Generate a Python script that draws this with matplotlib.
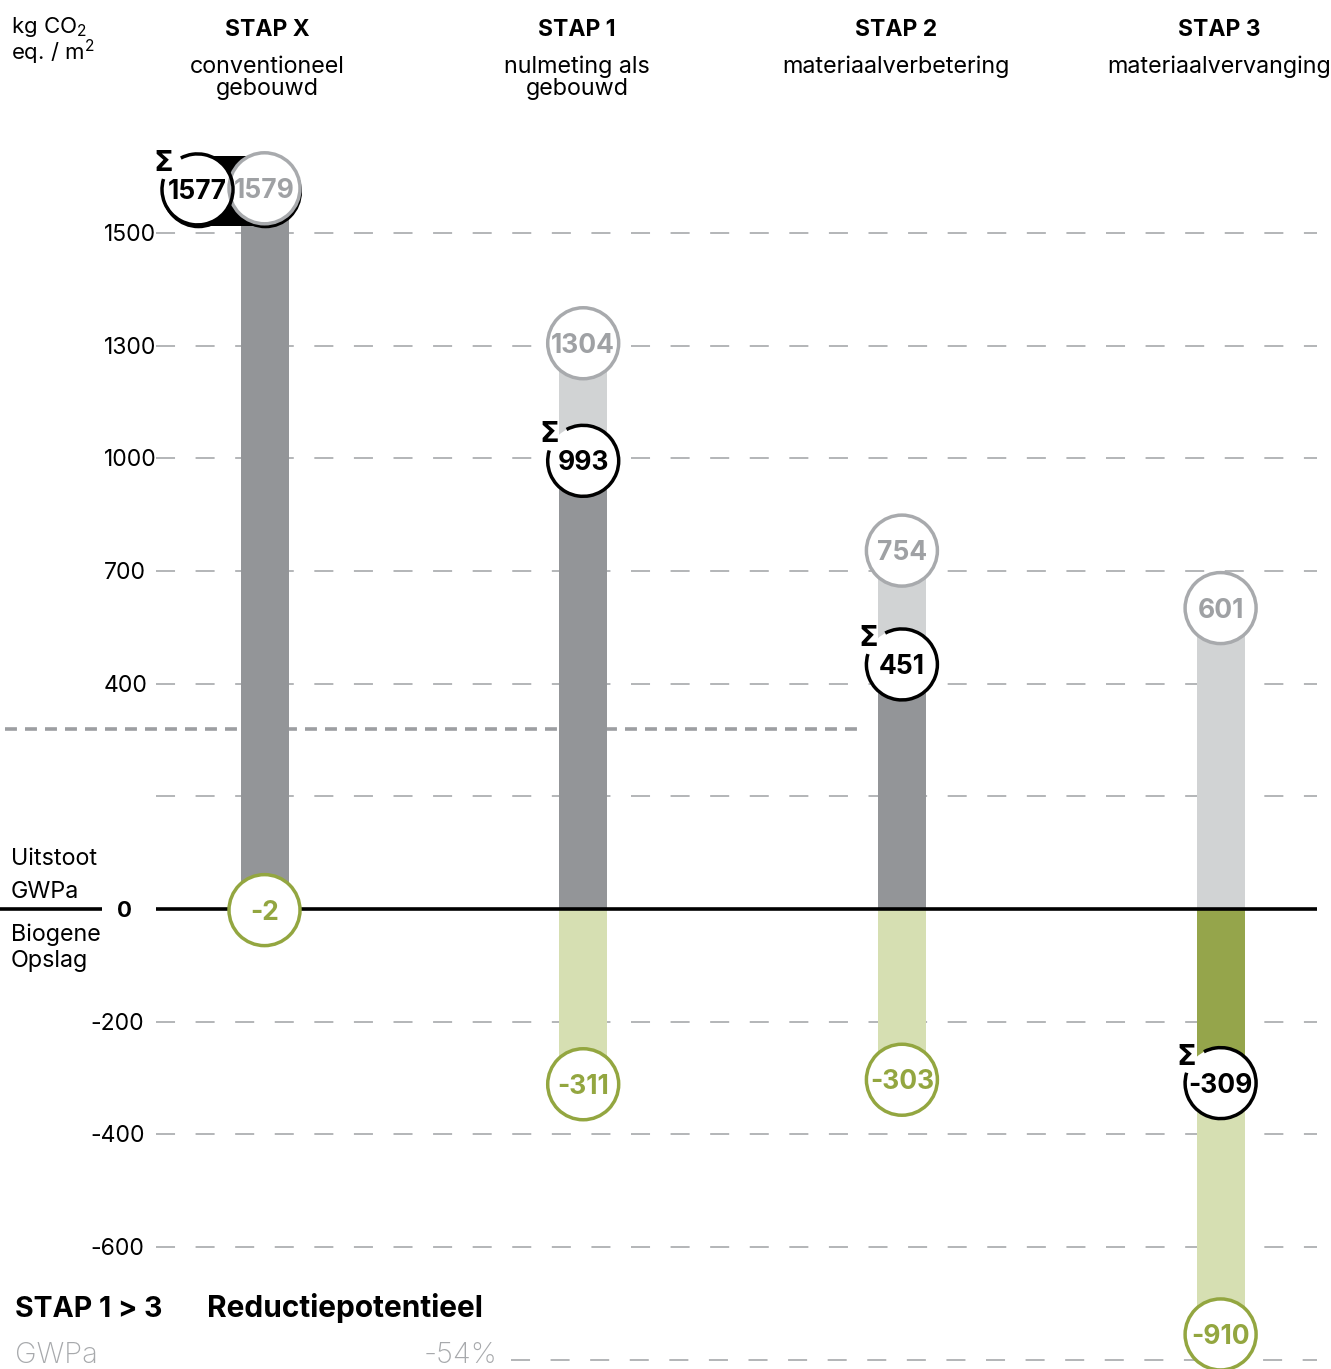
import numpy as np
import matplotlib
matplotlib.use("Agg")
import matplotlib.pyplot as plt
import matplotlib.transforms as mtransforms
from matplotlib.patches import Circle, Arc, Rectangle

plt.rcParams['font.family'] = ['Inter', 'DejaVu Sans']
plt.rcParams['mathtext.default'] = 'regular'
plt.rcParams['lines.scale_dashes'] = False

# ---------------------------------------------------------------- data
steps = ['STAP X', 'STAP 1', 'STAP 2', 'STAP 3']
descriptions = [['conventioneel', 'gebouwd'], ['nulmeting als', 'gebouwd'],
                ['materiaalverbetering'], ['materiaalvervanging']]
emission = [1579, 1304, 754, 601]        # Uitstoot GWPa
biogenic = [-2, -311, -303, -910]        # Biogene opslag
net_total = [1577, 993, 451, -309]       # Σ
tick_values = [-1000, -600, -400, -200, 0, 200, 400, 700, 1000, 1300, 1500]
tick_labels = ['', '-600', '-400', '-200', '0', '', '400', '700', '1000', '1300', '1500']
benchmark = 320
reduction_text = ['STAP 1 > 3', 'Reductiepotentieel']
reduction_row = ['GWPa', '-54%']

# ---------------------------------------------------------------- style
DARK = '#939598'
LIGHT = '#d1d3d4'
GREEN_LIGHT = '#d6dfb2'
GREEN_DARK = '#95a54b'
GREEN_EDGE = '#93a640'
GRAY_EDGE = '#a8aaad'
GRAY_TEXT = '#9fa1a4'
GRID = '#b3b5b8'
FS_TEXT = 16.8

W, H = 1331, 1369
fig = plt.figure(figsize=(W / 100, H / 100), dpi=100)
ax = fig.add_axes([0, 0, 1, 1])

# uneven value axis: every gridline is one equal step
_vals = np.array(tick_values, float)
_pos = np.arange(len(_vals), dtype=float) - tick_values.index(0)


def _piecewise(v, xs, ys):
    v = np.asarray(v, float)
    out = np.interp(v, xs, ys)
    lo = (ys[1] - ys[0]) / (xs[1] - xs[0])
    hi = (ys[-1] - ys[-2]) / (xs[-1] - xs[-2])
    out = np.where(v < xs[0], ys[0] + (v - xs[0]) * lo, out)
    out = np.where(v > xs[-1], ys[-1] + (v - xs[-1]) * hi, out)
    return out


ax.set_yscale('function', functions=(lambda v: _piecewise(v, _vals, _pos),
                                     lambda p: _piecewise(p, _pos, _vals)))
ZERO_PX, STEP_PX = 909, 112.7
X0_PX, DX_PX = 264.5, 318.7
ax.set_ylim(_piecewise((ZERO_PX - H) / STEP_PX, _pos, _vals),
            _piecewise(ZERO_PX / STEP_PX, _pos, _vals))
ax.set_xlim(-X0_PX / DX_PX, (W - X0_PX) / DX_PX)
ax.axis('off')


def xd(px):
    return (px - X0_PX) / DX_PX


def fy(py):
    return 1 - py / H


# ---------------------------------------------------------------- grid
grid_dash = (0, (13.7, 14.8))
for v in tick_values:
    if v == 0:
        continue
    start = 156 if v != tick_values[0] else 511
    ax.hlines(v, xd(start), xd(1317), color=GRID, lw=1.4, ls=grid_dash, zorder=1)
ax.hlines(0, xd(156), xd(1317), color='black', lw=2.6, zorder=3)
ax.hlines(0, xd(0), xd(102), color='black', lw=2.6, zorder=3)
ax.hlines(benchmark, xd(5), xd(860), color='#9c9ea1', lw=2.6,
          ls=(0, (8.6, 5.8)), zorder=1.5)

# tick labels
for v, lab in zip(tick_values, tick_labels):
    if not lab:
        continue
    tr = mtransforms.offset_copy(ax.transData, fig, y=-8, units='dots')
    if v == 0:
        ax.text(xd(124), v, lab, transform=tr, ha='center', va='baseline',
                fontsize=16, fontweight='bold')
    else:
        ax.text(xd(104 if v > 0 else 90), v, lab, transform=tr, ha='left',
                va='baseline', fontsize=16.5)

# ---------------------------------------------------------------- bars
BW = 48 / DX_PX
for i in range(len(steps)):
    ax.bar(i, emission[i], width=BW, color=LIGHT, zorder=2)
    if net_total[i] >= 0:
        ax.bar(i, net_total[i], width=BW, color=DARK, zorder=2.1)
        ax.bar(i, biogenic[i], width=BW, color=GREEN_LIGHT, zorder=2)
    else:
        ax.bar(i, net_total[i], width=BW, color=GREEN_DARK, zorder=2.1)
        ax.bar(i, biogenic[i] - net_total[i], bottom=net_total[i], width=BW,
               color=GREEN_LIGHT, zorder=2)

# ---------------------------------------------------------------- badges
R = 0.355


def anchor(x, y):
    return fig.dpi_scale_trans + mtransforms.ScaledTranslation(x, y, ax.transData)


def badge(x, y, value, edge, color, sigma=False, dx=0.0):
    tr = anchor(x, y)
    if sigma:
        ax.add_patch(Circle((dx, 0), R, fc='white', ec='none', transform=tr, zorder=5))
        ax.add_patch(Arc((dx, 0), 2 * R, 2 * R, theta1=163, theta2=478,
                         color='black', lw=2.5, transform=tr, zorder=5.1))
        ang = np.deg2rad(142)
        ax.text(dx + 0.43 * np.cos(ang), 0.43 * np.sin(ang), 'Σ', transform=tr,
                ha='center', va='center', fontsize=21, fontweight='bold',
                family=['DejaVu Sans'], zorder=6)
    else:
        ax.add_patch(Circle((dx, 0), R, fc='white', ec=edge, lw=2.5,
                            transform=tr, zorder=5))
    ttr = tr + mtransforms.Affine2D().translate(0, -9.5)
    ax.text(dx, 0, str(value), transform=ttr, ha='center', va='baseline',
            fontsize=19, fontweight='bold', color=color, zorder=6)


# STAP X: Σ badge sits left of the emission badge on a black capsule
DXL = -0.67
cap_tr = anchor(0, emission[0])
ax.add_patch(Rectangle((DXL, -0.375), -DXL, 0.70, fc='black', ec='none',
                       transform=cap_tr, zorder=4.5))
ax.add_patch(Circle((0.01, -0.035), R + 0.01, fc='black', ec='none',
                    transform=cap_tr, zorder=4.5))
ax.add_patch(Circle((DXL + 0.01, -0.035), R + 0.01, fc='black', ec='none',
                    transform=cap_tr, zorder=4.5))

for i in range(len(steps)):
    if i == 0:
        badge(i, net_total[i], net_total[i], 'black', 'black', sigma=True, dx=DXL)
    else:
        badge(i, net_total[i], net_total[i], 'black', 'black', sigma=True)
    badge(i, emission[i], emission[i], GRAY_EDGE, GRAY_TEXT)
    badge(i, biogenic[i], biogenic[i], GREEN_EDGE, GREEN_EDGE)

# ---------------------------------------------------------------- headers
title_x = [267, 577, 896, 1219]
for tx, st, desc in zip(title_x, steps, descriptions):
    fig.text(tx / W, fy(36), st, ha='center', va='baseline', fontsize=16.5,
             fontweight='bold')
    for k, line in enumerate(desc):
        fig.text(tx / W, fy(73 + 22 * k), line, ha='center', va='baseline',
                 fontsize=FS_TEXT)

fig.text(11 / W, fy(33), 'kg CO$_2$', ha='left', va='baseline', fontsize=16)
fig.text(11 / W, fy(60), 'eq. / m$^2$', ha='left', va='baseline', fontsize=16)

for txt, base in zip(['Uitstoot', 'GWPa', 'Biogene', 'Opslag'], [865, 898, 941, 967]):
    fig.text(11 / W, fy(base), txt, ha='left', va='baseline', fontsize=FS_TEXT)

fig.text(15 / W, fy(1317), reduction_text[0], ha='left', va='baseline',
         fontsize=20.5, fontweight='bold')
fig.text(207 / W, fy(1317), reduction_text[1], ha='left', va='baseline',
         fontsize=21.5, fontweight='bold')
fig.text(15 / W, fy(1363), reduction_row[0], ha='left', va='baseline',
         fontsize=21, color='#a7a9ac', fontweight='light')
fig.text(497 / W, fy(1363), reduction_row[1], ha='right', va='baseline',
         fontsize=21, color='#a7a9ac', fontweight='light')

fig.savefig('out.png', dpi=100)
